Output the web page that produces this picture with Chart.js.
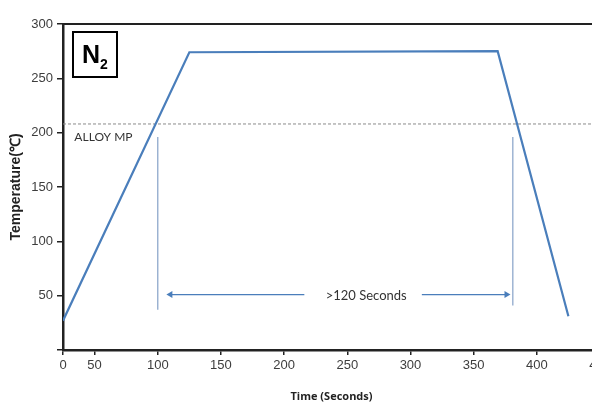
<!DOCTYPE html>
<html>
<head>
<meta charset="utf-8">
<script src="https://cdn.jsdelivr.net/npm/chart.js@4.4.0/dist/chart.umd.min.js"></script>
<style>
  html, body { margin: 0; padding: 0; background: #fff; overflow: hidden; width: 592px; height: 403px; }
  #wrap { width: 615px; height: 403px; }
</style>
</head>
<body>
<div id="wrap"><canvas id="profile" width="615" height="403"></canvas></div>
<script>
// reflow profile
const timeSec = [25, 125, 369, 425];
const tempC = [27, 274, 275, 31];

const xTickValues = [25, 50, 100, 150, 200, 250, 300, 350, 400, 450];
const xTickLabels = ['0', '50', '100', '150', '200', '250', '300', '350', '400', '450'];

const alloyMp = 208;
const holdMarks = [100, 381];
const markTop = [196, 196];
const markBottom = [37, 41];
const arrowTemp = 51;
const arrowLeft = [216, 110];
const arrowRight = [309, 376];
const holdLabelTime = 265;

const blue = '#4a7ebb';
const ink = '#222';

const pts = (xs, ys) => xs.map((x, i) => ({ x: x, y: ys[i] }));
const arrowHead = ctx => (ctx.dataIndex === 1 ? 4 : 0);

const labels = {
  id: 'labels',
  afterDatasetsDraw(chart) {
    const { ctx, scales: { x, y }, chartArea } = chart;
    ctx.save();
    ctx.fillStyle = '#333';
    ctx.textBaseline = 'middle';
    ctx.font = '12px Lato, "Liberation Sans", sans-serif';
    ctx.textAlign = 'left';
    ctx.fillText('ALLOY MP', x.getPixelForValue(34), y.getPixelForValue(196));

    ctx.font = '13px Lato, "Liberation Sans", sans-serif';
    ctx.textAlign = 'center';
    ctx.fillText('>120 Seconds', x.getPixelForValue(holdLabelTime), y.getPixelForValue(arrowTemp) + 1);

    // N2 box
    const bx = chartArea.left + 9, by = chartArea.top + 7;
    ctx.strokeStyle = '#000';
    ctx.lineWidth = 2;
    ctx.strokeRect(bx + 1, by + 1, 44, 45);
    ctx.fillStyle = '#000';
    ctx.textAlign = 'left';
    ctx.textBaseline = 'alphabetic';
    ctx.font = 'bold 25px "Liberation Sans", Arial, sans-serif';
    ctx.fillText('N', bx + 10, by + 32);
    ctx.font = 'bold 14px "Liberation Sans", Arial, sans-serif';
    ctx.fillText('2', bx + 28, by + 38);
    ctx.restore();
  }
};

new Chart(document.getElementById('profile'), {
  type: 'line',
  data: {
    datasets: [
      { data: pts(timeSec, tempC), borderColor: blue, borderWidth: 2.2, pointRadius: 0 },
      { data: pts([25, 450], [alloyMp, alloyMp]), borderColor: '#8a8a8a', borderWidth: 1, borderDash: [3, 2], pointRadius: 0 },
      { data: pts([holdMarks[0], holdMarks[0]], [markTop[0], markBottom[0]]), borderColor: '#8fa9cc', borderWidth: 1.3, pointRadius: 0 },
      { data: pts([holdMarks[1], holdMarks[1]], [markTop[1], markBottom[1]]), borderColor: '#8fa9cc', borderWidth: 1.3, pointRadius: 0 },
      { data: pts(arrowLeft, [arrowTemp, arrowTemp]), borderColor: blue, borderWidth: 1.3,
        pointRadius: arrowHead, pointStyle: 'triangle', rotation: -90, backgroundColor: blue, pointBorderWidth: 0 },
      { data: pts(arrowRight, [arrowTemp, arrowTemp]), borderColor: blue, borderWidth: 1.3,
        pointRadius: arrowHead, pointStyle: 'triangle', rotation: 90, backgroundColor: blue, pointBorderWidth: 0 }
    ]
  },
  options: {
    responsive: false,
    animation: false,
    devicePixelRatio: 1,
    layout: { padding: { left: 0, right: 15, top: 0, bottom: 0 } },
    plugins: { legend: { display: false }, tooltip: { enabled: false } },
    scales: {
      x: {
        type: 'linear',
        min: 25,
        max: 450,
        afterBuildTicks: s => { s.ticks = xTickValues.map(v => ({ value: v })); },
        afterFit: s => { s.height = 53; },
        ticks: {
          autoSkip: false,
          maxRotation: 0,
          padding: 3,
          color: '#3d3d3d',
          font: { family: '"Liberation Sans", Arial, sans-serif', size: 13 },
          callback: v => xTickLabels[xTickValues.indexOf(v)]
        },
        grid: { drawOnChartArea: false, tickLength: 5, color: ink, lineWidth: 1.5 },
        border: { color: ink, width: 2.5 },
        title: {
          display: true,
          text: 'Time (Seconds)',
          color: ink,
          font: { family: '"Open Sans", "Liberation Sans", sans-serif', size: 11, weight: 'bold' },
          padding: { top: 0, bottom: 0 }
        }
      },
      xTop: {
        type: 'linear',
        position: 'top',
        min: 25,
        max: 450,
        afterFit: s => { s.height = 24; },
        ticks: { display: false },
        grid: { display: false },
        border: { color: ink, width: 2 }
      },
      y: {
        min: 0,
        max: 300,
        afterFit: s => { s.width = 63; },
        ticks: {
          stepSize: 50,
          padding: 4,
          color: '#3d3d3d',
          font: { family: '"Liberation Sans", Arial, sans-serif', size: 13 },
          callback: v => (v === 0 ? '' : v)
        },
        grid: { drawOnChartArea: false, tickLength: 6, color: ink, lineWidth: 1.5 },
        border: { color: ink, width: 2.5 },
        title: {
          display: true,
          text: 'Temperature(℃)',
          color: ink,
          font: { family: '"Liberation Sans", Arial, sans-serif', size: 14, weight: 'bold' },
          padding: { top: 8, bottom: 0 }
        }
      }
    }
  },
  plugins: [labels]
});
</script>
</body>
</html>
